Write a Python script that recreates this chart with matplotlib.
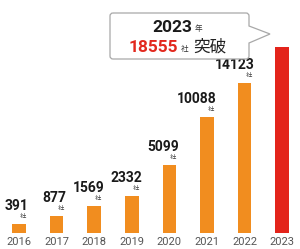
import numpy as np
import matplotlib
matplotlib.use("Agg")
import matplotlib.pyplot as plt
from matplotlib.path import Path
from matplotlib.patches import PathPatch

plt.rcParams['font.family'] = ['Roboto', 'Noto Sans CJK JP', 'DejaVu Sans']

years = ["2016", "2017", "2018", "2019", "2020", "2021", "2022", "2023"]
counts = [391, 877, 1569, 2332, 5099, 10088, 14123, 18555]
bar_colors = ["#F18D1F"] * 7 + ["#E3241B"]
unit = "社"
callout_year = "2023"
callout_year_unit = "年"
callout_value = "18555"
callout_tail = "突破"

W, H = 300, 249
fig = plt.figure(figsize=(W / 100, H / 100), dpi=100)
fig.patch.set_facecolor("white")

ax = fig.add_axes([0, 1 - 233 / H, 1, 233 / H])
p = 0.7746
ax.set_yscale('function', functions=(lambda v: np.power(np.clip(v, 0, None), p),
                                     lambda v: np.power(np.clip(v, 0, None), 1 / p)))
x = np.arange(len(years))
ax.bar(x, counts, width=0.36, color=bar_colors, zorder=2)
ax.set_xlim(-0.505, 7.473)
ax.set_ylim(0, 24900)
for s in ax.spines.values():
    s.set_visible(False)
ax.set_yticks([])
ax.set_xticks(x)
ax.set_xticklabels(years, fontsize=8, color="#555555")
ax.tick_params(axis='x', length=0, pad=3)

for i, v in enumerate(counts[:-1]):
    ax.annotate(str(v), xy=(i, v), xytext=(10, 14), textcoords='offset pixels',
                ha='right', va='baseline', fontsize=10, fontweight='bold', color='#1a1a1a')
    ax.annotate(unit, xy=(i, v), xytext=(7, 6), textcoords='offset pixels',
                ha='right', va='baseline', fontsize=4.5, color='#444444')

# callout box with pointer (figure pixel coords, y from top)
def P(xp, yp):
    return (xp / W, 1 - yp / H)

x0, x1, y0, y1, r = 110, 249, 13, 59, 3
verts = [P(x0 + r, y0), P(x1 - r, y0), P(x1, y0), P(x1, y0 + r),
         P(x1, 26), P(270, 34), P(x1, 43),
         P(x1, y1 - r), P(x1, y1), P(x1 - r, y1),
         P(x0 + r, y1), P(x0, y1), P(x0, y1 - r),
         P(x0, y0 + r), P(x0, y0), P(x0 + r, y0)]
codes = [Path.MOVETO, Path.LINETO, Path.CURVE3, Path.CURVE3,
         Path.LINETO, Path.LINETO, Path.LINETO,
         Path.LINETO, Path.CURVE3, Path.CURVE3,
         Path.LINETO, Path.CURVE3, Path.CURVE3,
         Path.LINETO, Path.CURVE3, Path.CURVE3]
patch = PathPatch(Path(verts, codes), transform=fig.transFigure, facecolor='white',
                  edgecolor='#a8a8a8', lw=0.9, zorder=5)
fig.add_artist(patch)

fig.text(*P(192, 32), callout_year, ha='right', va='baseline', fontsize=12.5,
         fontweight='bold', color='#1a1a1a', zorder=6)
fig.text(*P(194.5, 31), callout_year_unit, ha='left', va='baseline', fontsize=5.5,
         color='#333333', zorder=6)
fig.text(*P(178, 52), callout_value, ha='right', va='baseline', fontsize=12.5,
         fontweight='bold', color='#E2281E', zorder=6)
fig.text(*P(181, 51), unit, ha='left', va='baseline', fontsize=5.5,
         color='#333333', zorder=6)
fig.text(*P(193, 51.5), callout_tail, ha='left', va='baseline', fontsize=12,
         color='#222222', zorder=6)

fig.savefig("out.png", dpi=100, facecolor="white")
